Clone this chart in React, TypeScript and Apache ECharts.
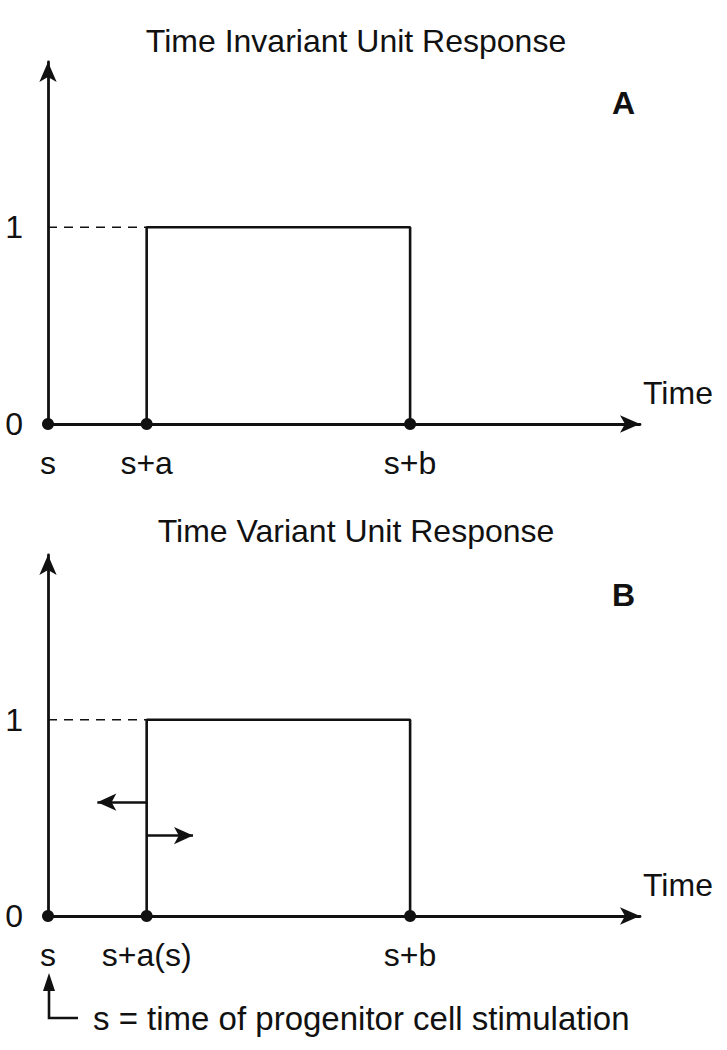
import React, { useEffect, useRef } from "react";
import * as echarts from "echarts";

// ---- data ----
const panelTitles = ["Time Invariant Unit Response", "Time Variant Unit Response"];
const panelLetters = ["A", "B"];
const tickPositions = [0, 1, 3.67]; // s, s+a, s+b
const tickNamesA = ["s", "s+a", "s+b"];
const tickNamesB = ["s", "s+a(s)", "s+b"];
const responseLevel = 1;
const xMax = 6;
const yMax = 1.84;
const yLabels = [0, 1];
// shift arrows in panel B: [y level, arrow tip x]
const shiftArrowLeft = [0.58, 0.5];
const shiftArrowRight = [0.41, 1.47];
const footnote = "s = time of progenitor cell stimulation";

const FONT = "'Liberation Sans', Arial, Helvetica, sans-serif";
const INK = "#111";

export default function App() {
  const ref = useRef<HTMLDivElement>(null);

  useEffect(() => {
    if (!ref.current) return;
    const chart = echarts.init(ref.current, undefined, { renderer: "svg" });
    const a = tickPositions[1];
    const b = tickPositions[2];

    const grids = [
      { left: 48, right: 87, top: 62, bottom: 626 },
      { left: 48, right: 87, top: 555, bottom: 134 },
    ];

    const xAxes = grids.map((_, i) => ({
      type: "value",
      gridIndex: i,
      min: 0,
      max: xMax,
      name: "Time",
      nameLocation: "end",
      nameGap: 3,
      nameTextStyle: {
        fontFamily: FONT,
        fontSize: 32,
        color: INK,
        align: "left",
        verticalAlign: "bottom",
        padding: [0, 0, 15, 0],
      },
      axisLine: {
        show: true,
        symbol: ["none", "arrow"],
        symbolSize: [13, 20],
        lineStyle: { color: INK, width: 2.8 },
      },
      axisTick: { show: false },
      axisLabel: { show: false },
      splitLine: { show: false },
    }));

    const yAxes = grids.map((_, i) => ({
      type: "value",
      gridIndex: i,
      min: 0,
      max: yMax,
      interval: 1,
      axisLine: {
        show: true,
        symbol: ["none", "arrow"],
        symbolSize: [13, 20],
        lineStyle: { color: INK, width: 2.8 },
      },
      axisTick: { show: false },
      splitLine: { show: false },
      axisLabel: {
        margin: 25,
        fontFamily: FONT,
        fontSize: 32,
        color: INK,
        showMaxLabel: false,
        formatter: (v: number) => (yLabels.includes(v) ? String(v) : ""),
      },
    }));

    const series: any[] = [];
    [tickNamesA, tickNamesB].forEach((names, i) => {
      series.push({
        type: "line",
        xAxisIndex: i,
        yAxisIndex: i,
        symbol: "none",
        lineStyle: { color: INK, width: 2.6 },
        data: [
          [a, 0],
          [a, responseLevel],
          [b, responseLevel],
          [b, 0],
        ],
        z: 3,
        markLine:
          i === 1
            ? {
                silent: true,
                symbol: ["none", "arrow"],
                symbolSize: [13, 19],
                label: { show: false },
                lineStyle: { color: INK, width: 2.6, type: "solid" },
                data: [
                  [
                    { coord: [a, shiftArrowLeft[0]] },
                    { coord: [shiftArrowLeft[1], shiftArrowLeft[0]] },
                  ],
                  [
                    { coord: [a, shiftArrowRight[0]] },
                    { coord: [shiftArrowRight[1], shiftArrowRight[0]] },
                  ],
                ],
              }
            : undefined,
      });
      series.push({
        type: "line",
        xAxisIndex: i,
        yAxisIndex: i,
        symbol: "none",
        lineStyle: { color: INK, width: 1.6, type: [9, 7] },
        data: [
          [0, responseLevel],
          [a, responseLevel],
        ],
        z: 2,
      });
      series.push({
        type: "scatter",
        xAxisIndex: i,
        yAxisIndex: i,
        symbolSize: 12,
        itemStyle: { color: INK, opacity: 1 },
        z: 5,
        label: {
          show: true,
          position: "bottom",
          distance: 17,
          fontFamily: FONT,
          fontSize: 32,
          color: INK,
          opacity: 1,
          formatter: (p: any) => names[p.dataIndex],
        },
        data: tickPositions.map((x) => [x, 0]),
      });
    });

    const titles: any[] = [];
    panelTitles.forEach((t, i) => {
      titles.push({
        text: t,
        left: 356,
        top: i === 0 ? 25 : 515,
        textAlign: "center",
        padding: 0,
        textStyle: { fontFamily: FONT, fontSize: 32, fontWeight: "normal", color: INK },
      });
      titles.push({
        text: panelLetters[i],
        left: 612,
        top: i === 0 ? 87 : 579,
        padding: 0,
        textStyle: { fontFamily: FONT, fontSize: 32, fontWeight: "bold", color: INK },
      });
    });

    chart.setOption({
      animation: false,
      backgroundColor: "#fff",
      title: titles,
      grid: grids,
      xAxis: xAxes,
      yAxis: yAxes,
      series,
      graphic: [
        {
          type: "polyline",
          shape: {
            points: [
              [78, 1018],
              [49, 1018],
              [49, 988],
            ],
          },
          style: { stroke: INK, lineWidth: 2.6, fill: null },
        },
        {
          type: "polygon",
          shape: {
            points: [
              [49, 973],
              [43, 991],
              [55, 991],
            ],
          },
          style: { fill: INK },
        },
        {
          type: "text",
          x: 93,
          y: 1018,
          style: {
            text: footnote,
            fontFamily: FONT,
            fontSize: 33,
            fill: INK,
            verticalAlign: "middle",
            align: "left",
          },
        },
      ],
    });

    return () => chart.dispose();
  }, []);

  return (
    <div
      ref={ref}
      style={{ position: "absolute", left: 0, top: 0, width: 727, height: 1050, background: "#fff" }}
    />
  );
}
